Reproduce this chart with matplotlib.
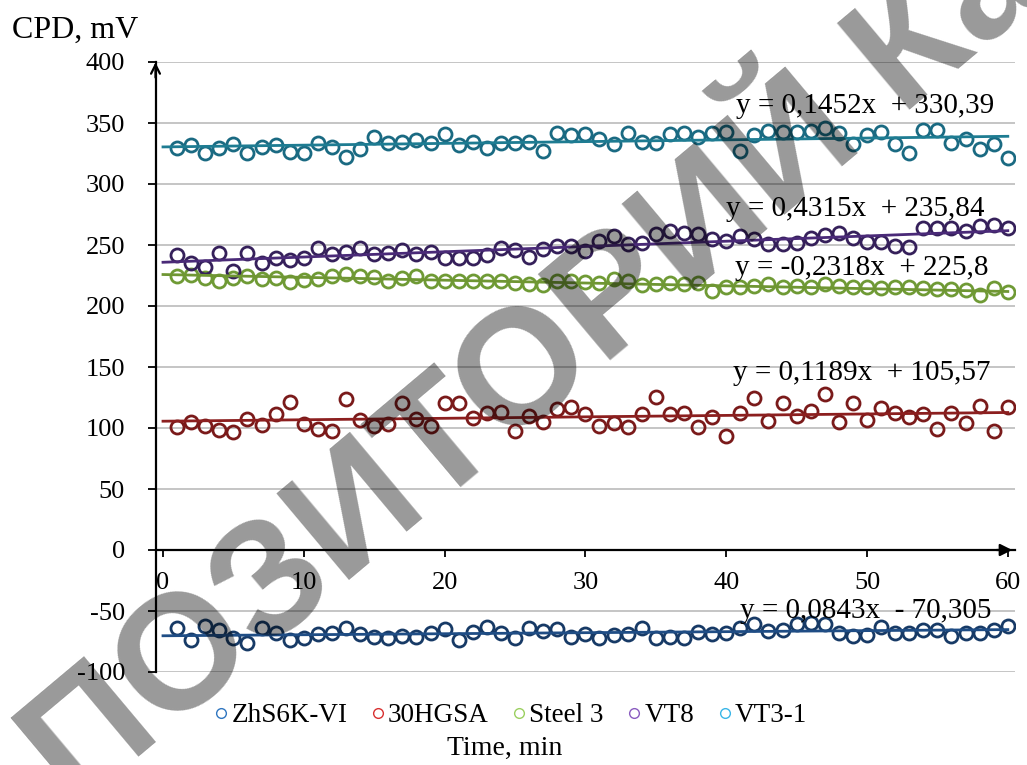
import numpy as np
import matplotlib
matplotlib.use("Agg")
import matplotlib.pyplot as plt
from matplotlib.lines import Line2D
from matplotlib import font_manager

SERIF = ['Liberation Serif', 'Times New Roman', 'STIXGeneral', 'DejaVu Serif']
plt.rcParams['font.family'] = SERIF
plt.rcParams['axes.unicode_minus'] = False

# ---------------- data ----------------
series_names = ["ZhS6K-VI", "30HGSA", "Steel 3", "VT8", "VT3-1"]
time_min = np.arange(1, 61)

zhs6k_vi = [-64.2, -73.8, -62.3, -65.8, -72.4, -76.0, -64.2, -68.3, -73.8, -72.4,
            -69.1, -67.8, -64.2, -69.1, -71.3, -72.4, -70.5, -71.3, -68.3, -65.0,
            -73.8, -67.0, -63.1, -68.3, -71.9, -64.2, -66.4, -65.0, -71.1, -69.1,
            -72.4, -69.9, -69.1, -63.7, -72.4, -71.3, -71.9, -67.0, -69.1, -67.8,
            -64.2, -60.9, -66.4, -65.8, -60.9, -59.6, -60.4, -67.8, -70.5, -69.7,
            -63.1, -68.3, -67.8, -65.8, -65.8, -70.5, -67.8, -67.8, -65.8, -62.3]

hgsa_30 = [100.8, 105.2, 101.6, 98.1, 97.0, 107.6, 102.2, 111.2, 121.3, 103.0,
           98.9, 97.5, 123.5, 106.6, 101.6, 103.0, 120.2, 107.1, 101.6, 120.7,
           120.2, 107.9, 112.5, 113.4, 97.5, 109.8, 105.2, 115.3, 117.2, 111.7,
           101.6, 103.8, 100.8, 111.2, 125.4, 111.2, 112.0, 100.8, 109.3, 93.4,
           112.5, 124.9, 105.7, 120.7, 109.8, 113.9, 127.6, 104.9, 120.7, 106.3,
           116.1, 112.5, 109.0, 111.2, 98.9, 112.0, 103.8, 118.0, 97.5, 117.2]

steel_3 = [224.6, 225.4, 222.7, 220.5, 223.2, 224.6, 221.9, 223.2, 219.9, 221.1,
           221.9, 224.6, 226.5, 224.6, 223.8, 220.5, 223.2, 224.6, 220.5, 220.5,
           220.5, 220.5, 220.5, 220.5, 219.1, 218.3, 217.2, 220.5, 220.5, 219.7,
           219.1, 221.9, 220.5, 217.2, 217.8, 219.1, 218.3, 219.1, 212.3, 215.6,
           215.6, 216.4, 217.8, 215.6, 216.4, 215.6, 217.8, 216.4, 215.6, 215.6,
           215.0, 215.6, 215.6, 215.0, 213.7, 213.7, 212.9, 209.0, 215.0, 211.7]

vt8 = [241.8, 235.0, 232.2, 243.2, 228.7, 243.7, 235.5, 239.1, 237.7, 239.6,
       247.8, 242.4, 244.5, 247.8, 242.4, 243.2, 245.9, 242.4, 244.5, 239.1,
       239.1, 239.6, 241.8, 247.8, 245.9, 240.4, 246.5, 249.2, 249.2, 245.1,
       253.3, 257.4, 250.6, 251.9, 258.8, 261.5, 260.1, 258.8, 254.7, 253.3,
       257.4, 254.7, 251.1, 251.1, 251.9, 256.0, 258.2, 260.1, 256.0, 252.7,
       252.7, 249.2, 248.6, 263.7, 263.7, 263.7, 261.5, 265.6, 266.4, 263.7]

vt3_1 = [329.2, 332.0, 325.7, 329.8, 332.5, 325.7, 330.6, 332.0, 326.5, 325.7,
         333.4, 330.6, 322.1, 328.4, 338.8, 333.4, 334.7, 336.1, 333.9, 340.7,
         332.0, 334.7, 329.8, 333.9, 333.4, 334.7, 327.0, 341.5, 340.2, 340.7,
         336.6, 332.5, 341.5, 334.7, 333.9, 340.7, 342.0, 338.8, 341.5, 342.9,
         327.0, 340.2, 343.4, 343.0, 343.0, 343.4, 345.6, 341.5, 332.5, 340.2,
         343.0, 332.5, 325.7, 344.0, 344.0, 333.4, 336.6, 328.4, 332.5, 321.6]

# trend line coefficients as printed on the chart
trend_slopes = [0.0843, 0.1189, -0.2318, 0.4315, 0.1452]
trend_intercepts = [-70.305, 105.57, 225.8, 235.84, 330.39]

y_ticks = [-100, -50, 0, 50, 100, 150, 200, 250, 300, 350, 400]
x_ticks = [0, 10, 20, 30, 40, 50, 60]

all_series = [zhs6k_vi, hgsa_30, steel_3, vt8, vt3_1]

# ---------------- style ----------------
marker_colors = ['#173a66', '#7a1a1a', '#6f9a35', '#35205a', '#1a6a82']
line_colors = ['#1f4d85', '#8c1f1f', '#6f9633', '#4a2a78', '#1e7c92']
legend_colors = ['#2f76c0', '#d83030', '#9bd060', '#8a5cc0', '#3ab6e8']
eq_pos = [(49.9, -50.0), (49.6, 145.1), (49.6, 231.1), (49.2, 279.5), (49.9, 363.9)]

W, H = 1027, 765
fig = plt.figure(figsize=(W / 100, H / 100), dpi=100)
ax_left, ax_right, ax_bottom, ax_top = 155.5, 1015, 672, 62
ax = fig.add_axes([ax_left / W, 1 - ax_bottom / H,
                   (ax_right - ax_left) / W, (ax_bottom - ax_top) / H])

x0_px, px_per = 163.0, 14.08
ax.set_xlim((ax_left - x0_px) / px_per, (ax_right - x0_px) / px_per)
ax.set_ylim(-100, 400)

for s, m, lc, slope, icpt in zip(all_series, marker_colors, line_colors,
                                 trend_slopes, trend_intercepts):
    ax.plot(time_min, s, linestyle='none', marker='o', markersize=9.4,
            markerfacecolor='none', markeredgecolor=m, markeredgewidth=2.0,
            zorder=3)
    xx = np.array([0, 60])
    ax.plot(xx, slope * xx + icpt, color=lc, lw=2.0, zorder=4)

for slope, icpt, (tx, ty) in zip(trend_slopes, trend_intercepts, eq_pos):
    sign = '+' if icpt >= 0 else '-'
    txt = f"y = {slope:g}x  {sign} {abs(icpt):g}".replace('.', ',')
    ax.text(tx, ty, txt, ha='center', va='center', fontsize=21, zorder=5,
            family=SERIF)

# grid
ax.set_yticks(y_ticks)
ax.yaxis.grid(True, color='#c0c0c0', lw=1.3)
ax.set_axisbelow(True)

# spines
ax.spines['top'].set_visible(False)
ax.spines['right'].set_visible(False)
ax.spines['bottom'].set_position(('data', 0))
ax.spines['bottom'].set_linewidth(1.6)
ax.spines['left'].set_linewidth(1.6)
ax.spines['bottom'].set_zorder(2.5)

ax.set_xticks(x_ticks)
ax.tick_params(axis='y', direction='out', length=6, width=1.3, labelsize=19, pad=16)
ax.tick_params(axis='x', direction='out', length=5, width=1.3, labelsize=19, pad=11)
for lab in ax.get_xticklabels() + ax.get_yticklabels():
    lab.set_fontfamily(SERIF)

# arrowheads
xmin, xmax = ax.get_xlim()
ax.annotate('', xy=(xmax, 0), xytext=(xmax - 1.5, 0),
            arrowprops=dict(arrowstyle='-|>', color='black', lw=1.6,
                            mutation_scale=18), annotation_clip=False)
ax.annotate('', xy=(xmin, 402), xytext=(xmin, 385),
            arrowprops=dict(arrowstyle='->', color='black', lw=1.6,
                            mutation_scale=16), annotation_clip=False)

# axis titles
fig.text(12 / W, 1 - 30 / H, "CPD, mV", ha='left', va='center', fontsize=23, family=SERIF)
fig.text(505 / W, 1 - 748 / H, "Time, min", ha='center', va='center', fontsize=20,
         family=SERIF)

# legend
handles = [Line2D([], [], linestyle='none', marker='o', markersize=7,
                  markerfacecolor='none', markeredgecolor=c, markeredgewidth=1.0)
           for c in legend_colors]
leg = fig.legend(handles, series_names, loc='center', bbox_to_anchor=(511 / W, 1 - 716 / H),
                 ncol=5, frameon=False,
                 prop=font_manager.FontProperties(family=SERIF, size=19.5),
                 handlelength=0.45, handletextpad=0.15, columnspacing=0.9, borderpad=0)

# watermark
fig.text(75 / W, 1 - 810 / H, "ПОЗИТОРИЙ Ка", rotation=40, rotation_mode='anchor',
         ha='left', va='baseline', fontsize=118, fontweight='bold', color='black',
         alpha=0.4, family=['Liberation Sans', 'DejaVu Sans'], zorder=10)

fig.savefig('out.png', dpi=100)
